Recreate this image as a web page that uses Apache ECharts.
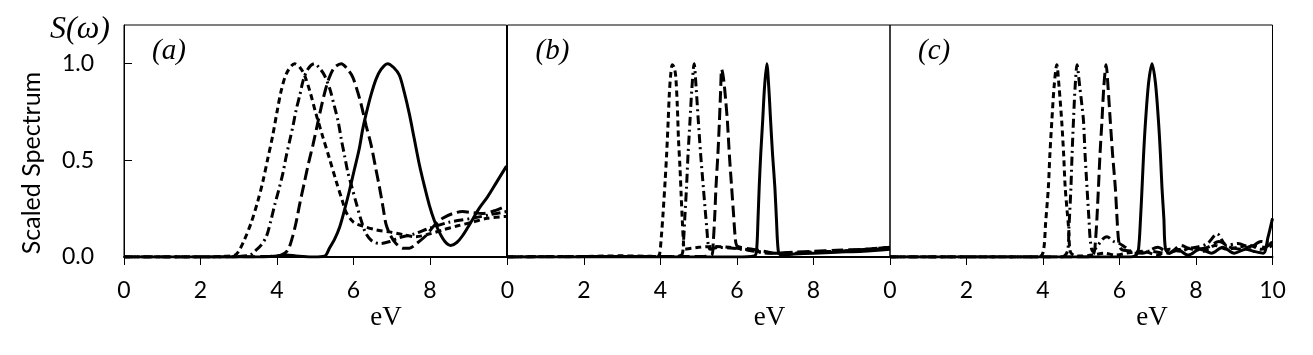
<!DOCTYPE html>
<html>
<head>
<meta charset="utf-8">
<script src="https://cdn.jsdelivr.net/npm/echarts@6/dist/echarts.min.js"></script>
<style>
  html, body { margin: 0; padding: 0; background: #fff; }
  #chart { width: 1313px; height: 355px; }
</style>
</head>
<body>
<div id="chart"></div>
<script>
// x ticks (eV) and y ticks
const xTicks = [0, 2, 4, 6, 8, 10];
const yTicks = [0.0, 0.5, 1.0];
const panelNames = ['(a)', '(b)', '(c)'];

// panel (a)
const aShort = [[0,0],[1,0],[2,0],[2.6,0.003],[2.9,0.01],[3.0,0.03],[3.15,0.09],[3.33,0.18],[3.5,0.29],[3.63,0.39],[3.76,0.51],[3.89,0.63],[4.0,0.75],[4.11,0.86],[4.25,0.95],[4.46,1.0],[4.6,0.98],[4.72,0.94],[4.87,0.85],[5.02,0.74],[5.2,0.62],[5.37,0.51],[5.55,0.39],[5.71,0.29],[5.81,0.23],[6.0,0.18],[6.24,0.16],[6.6,0.14],[6.94,0.13],[7.3,0.115],[7.63,0.105],[8.0,0.12],[8.33,0.14],[8.7,0.16],[9.11,0.18],[9.5,0.2],[10,0.21]];
const aDashDot = [[0,0],[2,0],[3.0,0.003],[3.3,0.01],[3.42,0.03],[3.58,0.06],[3.72,0.105],[3.83,0.18],[3.94,0.27],[4.05,0.35],[4.15,0.43],[4.24,0.52],[4.33,0.6],[4.42,0.68],[4.5,0.76],[4.6,0.84],[4.68,0.91],[4.8,0.97],[4.98,1.0],[5.1,0.98],[5.24,0.94],[5.38,0.87],[5.5,0.78],[5.6,0.7],[5.68,0.61],[5.77,0.52],[5.85,0.44],[5.96,0.36],[6.07,0.28],[6.2,0.19],[6.33,0.12],[6.5,0.08],[6.7,0.07],[6.95,0.08],[7.2,0.1],[7.6,0.12],[8.0,0.15],[8.5,0.18],[9.1,0.2],[9.6,0.22],[10,0.235]];
const aLong = [[0,0],[2,0],[3.8,0.003],[4.1,0.01],[4.28,0.035],[4.4,0.1],[4.5,0.18],[4.6,0.28],[4.72,0.39],[4.83,0.49],[4.94,0.58],[5.05,0.68],[5.15,0.77],[5.26,0.86],[5.37,0.93],[5.5,0.98],[5.68,1.0],[5.85,0.97],[5.98,0.93],[6.1,0.86],[6.2,0.79],[6.33,0.68],[6.46,0.58],[6.57,0.47],[6.68,0.36],[6.77,0.26],[6.85,0.17],[6.97,0.11],[7.11,0.07],[7.3,0.045],[7.46,0.045],[7.65,0.07],[7.89,0.11],[8.1,0.16],[8.33,0.2],[8.6,0.225],[8.85,0.235],[9.1,0.23],[9.37,0.225],[9.7,0.24],[10,0.265]];
const aSolid = [[0,0],[3.6,0],[4.0,0.005],[4.25,0.01],[4.5,0.005],[4.9,0],[5.2,0.003],[5.28,0.01],[5.37,0.045],[5.5,0.09],[5.63,0.15],[5.76,0.24],[5.89,0.34],[6.02,0.45],[6.15,0.56],[6.24,0.66],[6.33,0.74],[6.46,0.84],[6.59,0.92],[6.72,0.97],[6.89,1.0],[7.05,0.98],[7.2,0.94],[7.33,0.85],[7.46,0.74],[7.59,0.61],[7.72,0.48],[7.85,0.37],[7.98,0.27],[8.11,0.19],[8.24,0.13],[8.39,0.08],[8.54,0.06],[8.7,0.075],[8.85,0.11],[9.07,0.18],[9.28,0.25],[9.5,0.31],[9.75,0.39],[10,0.47]];

// panel (b)
const bShort = [[0,0],[1,0.002],[2,0.003],[3,0.006],[3.6,0.004],[3.9,0.003],[3.97,0.01],[4.02,0.1],[4.07,0.235],[4.12,0.39],[4.16,0.53],[4.2,0.7],[4.23,0.84],[4.27,0.95],[4.31,0.995],[4.36,0.98],[4.4,0.93],[4.44,0.78],[4.47,0.61],[4.51,0.46],[4.54,0.32],[4.57,0.19],[4.6,0.08],[4.63,0.04],[4.8,0.045],[5.0,0.05],[5.4,0.055],[5.8,0.05],[6.2,0.04],[6.5,0.03],[7.0,0.02],[7.5,0.02],[8.0,0.025],[8.6,0.03],[9.3,0.035],[10,0.045]];
const bDashDot = [[0,0],[2,0.002],[4.3,0.003],[4.55,0.01],[4.6,0.08],[4.64,0.22],[4.68,0.36],[4.72,0.53],[4.77,0.7],[4.82,0.87],[4.88,1.0],[4.93,0.88],[4.99,0.7],[5.05,0.53],[5.12,0.36],[5.17,0.24],[5.21,0.15],[5.25,0.06],[5.3,0.04],[5.5,0.05],[5.9,0.045],[6.3,0.035],[6.8,0.02],[7.4,0.02],[8.0,0.025],[8.7,0.03],[9.4,0.04],[10,0.05]];
const bLong = [[0,0],[2,0.002],[5.0,0.003],[5.34,0.01],[5.38,0.08],[5.42,0.22],[5.45,0.36],[5.5,0.53],[5.54,0.7],[5.57,0.85],[5.6,0.97],[5.65,0.92],[5.7,0.82],[5.75,0.7],[5.8,0.53],[5.86,0.36],[5.91,0.22],[5.95,0.11],[5.99,0.06],[6.1,0.05],[6.4,0.04],[6.7,0.03],[7.0,0.02],[7.5,0.025],[8.0,0.03],[8.6,0.035],[9.3,0.04],[10,0.05]];
const bSolid = [[0,0],[6.0,0],[6.45,0.005],[6.51,0.03],[6.55,0.2],[6.58,0.36],[6.62,0.53],[6.67,0.7],[6.72,0.88],[6.78,1.0],[6.83,0.88],[6.88,0.7],[6.93,0.53],[6.99,0.36],[7.03,0.2],[7.08,0.03],[7.15,0.01],[7.5,0.015],[8.0,0.02],[8.6,0.025],[9.3,0.03],[10,0.04]];

// panel (c)
const cShort = [[0,0],[3.9,0],[4.01,0.03],[4.07,0.18],[4.14,0.36],[4.18,0.53],[4.23,0.7],[4.29,0.88],[4.36,0.995],[4.42,0.88],[4.49,0.7],[4.54,0.53],[4.58,0.36],[4.63,0.24],[4.67,0.15],[4.71,0.03],[4.8,0.01],[5.0,0.005],[5.3,0.01],[5.6,0.02],[5.9,0.01],[6.2,0.02],[6.6,0.03],[7.0,0.01],[7.3,0.04],[7.6,0.03],[7.9,0.05],[8.2,0.03],[8.5,0.06],[8.8,0.04],[9.1,0.05],[9.4,0.06],[9.7,0.04],[10,0.06]];
const cDashDot = [[0,0],[4.5,0],[4.64,0.03],[4.68,0.16],[4.73,0.36],[4.76,0.53],[4.8,0.72],[4.84,0.88],[4.89,0.995],[4.95,0.9],[5.02,0.78],[5.06,0.7],[5.1,0.53],[5.15,0.36],[5.2,0.2],[5.24,0.08],[5.3,0.03],[5.4,0.05],[5.55,0.09],[5.67,0.105],[5.85,0.08],[6.0,0.07],[6.15,0.05],[6.4,0.02],[6.8,0.03],[7.2,0.02],[7.6,0.04],[8.0,0.05],[8.3,0.07],[8.55,0.12],[8.8,0.06],[9.1,0.07],[9.4,0.05],[9.7,0.08],[10,0.07]];
const cLong = [[0,0],[5.2,0],[5.33,0.02],[5.37,0.08],[5.41,0.2],[5.45,0.36],[5.49,0.53],[5.54,0.7],[5.59,0.88],[5.65,0.995],[5.7,0.88],[5.76,0.7],[5.82,0.53],[5.89,0.36],[5.93,0.22],[5.98,0.08],[6.05,0.04],[6.3,0.03],[6.6,0.02],[7.0,0.05],[7.3,0.02],[7.6,0.06],[7.9,0.04],[8.3,0.05],[8.6,0.08],[8.9,0.05],[9.2,0.04],[9.5,0.06],[9.8,0.05],[10,0.08]];
const cSolid = [[0,0],[6.3,0],[6.44,0.01],[6.5,0.045],[6.55,0.2],[6.59,0.36],[6.63,0.53],[6.68,0.7],[6.76,0.9],[6.85,1.0],[6.94,0.9],[7.02,0.7],[7.07,0.53],[7.11,0.36],[7.16,0.2],[7.2,0.045],[7.3,0.02],[7.5,0.04],[7.8,0.01],[8.1,0.04],[8.4,0.02],[8.7,0.05],[9.0,0.02],[9.3,0.04],[9.5,0.03],[9.76,0.02],[9.88,0.1],[10,0.2]];

const panels = [
  [aShort, aDashDot, aLong, aSolid],
  [bShort, bDashDot, bLong, bSolid],
  [cShort, cDashDot, cLong, cSolid]
];
const dashTypes = [[6, 4], [9, 4, 2, 4], [12, 5], 'solid'];

const gridLeft = [124, 507.5, 890];
const gridW = 382.5;
const tickFont = 'Lato';
const serif = '"Liberation Serif", "DejaVu Serif", serif';

const chart = echarts.init(document.getElementById('chart'), null, {renderer: 'canvas'});

let grids = [], xAxes = [], yAxes = [], series = [], graphics = [];
gridLeft.forEach((left, i) => {
  grids.push({left: left, top: 25, width: gridW, height: 232, show: true,
    borderColor: '#000', borderWidth: 1, backgroundColor: 'transparent'});
  xAxes.push({
    type: 'value', gridIndex: i, min: xTicks[0], max: xTicks[xTicks.length - 1], interval: 2,
    splitLine: {show: false},
    axisLine: {lineStyle: {color: '#000', width: 2}},
    axisTick: {length: 8, lineStyle: {color: '#000', width: 1}},
    axisLabel: {color: '#000', fontFamily: tickFont, fontSize: 23, margin: 22,
      showMaxLabel: i === 2}
  });
  yAxes.push({
    type: 'value', gridIndex: i, min: 0, max: 1.2, interval: 0.5,
    splitLine: {show: false},
    axisLine: {show: i === 0, lineStyle: {color: '#000', width: 1}},
    axisTick: {show: i === 0, inside: true, length: 8, lineStyle: {color: '#000'},
      customValues: yTicks},
    axisLabel: {show: i === 0, color: '#000', fontFamily: tickFont, fontSize: 23, margin: 30,
      customValues: yTicks, formatter: v => v.toFixed(1)}
  });
  panels[i].forEach((d, k) => {
    series.push({
      type: 'line', xAxisIndex: i, yAxisIndex: i, data: d, symbol: 'none',
      smooth: 0.3, z: 3,
      lineStyle: {color: '#000', width: 3, type: dashTypes[k]}
    });
  });
  graphics.push({type: 'text', left: left + 28, top: 37,
    style: {text: panelNames[i], font: 'italic 29px ' + serif, fill: '#000'}});
  graphics.push({type: 'text', x: left + 262, y: 318,
    style: {text: 'eV', font: '27px ' + serif, fill: '#000', align: 'center', verticalAlign: 'middle'}});
});
graphics.push({type: 'text', left: 50, top: 14,
  style: {text: 'S(ω)', font: 'italic 32px ' + serif, fill: '#000'}});
graphics.push({type: 'text', x: 32, y: 163, rotation: Math.PI / 2,
  style: {text: 'Scaled Spectrum', font: '25px ' + tickFont, fill: '#000', align: 'center', verticalAlign: 'middle'}});

chart.setOption({
  animation: false,
  backgroundColor: '#fff',
  grid: grids,
  xAxis: xAxes,
  yAxis: yAxes,
  series: series,
  graphic: graphics
});
</script>
</body>
</html>
